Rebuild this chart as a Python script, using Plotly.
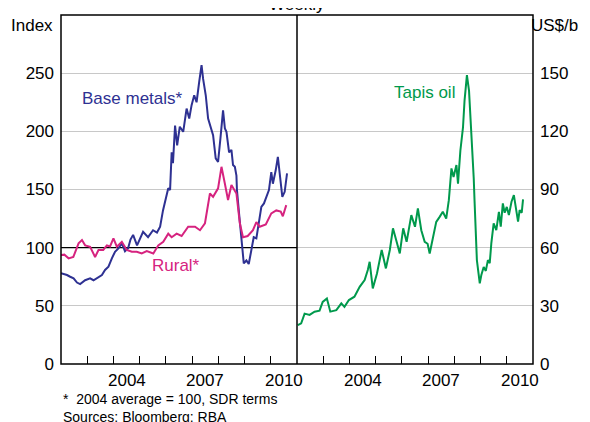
import plotly.graph_objects as go
from plotly.subplots import make_subplots

# ---- Data (decimal years) ----
base_years = [2002.00, 2002.23, 2002.35, 2002.48, 2002.61, 2002.73, 2002.92, 2003.11, 2003.24, 2003.43,
              2003.56, 2003.68, 2003.81, 2003.94, 2004.06, 2004.19, 2004.32, 2004.44, 2004.56, 2004.65,
              2004.75, 2004.90, 2005.13, 2005.32, 2005.51, 2005.66, 2005.78, 2005.89, 2005.97, 2006.09,
              2006.16, 2006.22, 2006.27, 2006.35, 2006.43, 2006.53, 2006.66, 2006.79, 2006.89, 2006.98,
              2007.08, 2007.17, 2007.27, 2007.36, 2007.42, 2007.52, 2007.61, 2007.70, 2007.80, 2007.90,
              2007.99, 2008.08, 2008.18, 2008.25, 2008.31, 2008.41, 2008.50, 2008.56, 2008.63, 2008.69,
              2008.71, 2008.79, 2008.88, 2008.97, 2009.07, 2009.16, 2009.26, 2009.35, 2009.45, 2009.55,
              2009.64, 2009.74, 2009.83, 2009.93, 2010.02, 2010.08, 2010.19, 2010.27, 2010.34, 2010.44,
              2010.53, 2010.62]
base_metals = [78, 76.5, 75, 73.6, 70, 68.7, 72, 73.6, 72, 75,
               76.5, 80.8, 83.6, 90.8, 96.5, 99.4, 103.7, 97, 99.6, 107,
               111, 102, 113.7, 109, 115, 113, 118, 132, 139, 151,
               149.5, 182, 172.7, 205, 188, 204, 199.6, 219.6, 211, 222.5,
               231, 225, 242.5, 257, 245, 231, 211, 205, 196.7, 176.7,
               173.8, 194, 218, 202.5, 199.6, 182, 184, 171, 169.5, 162,
               149.5, 129.5, 106.5, 86.5, 89, 86, 98, 109, 108, 121,
               135, 138, 143.7, 149.5, 165, 155, 166.7, 178, 163.8, 143.7,
               148, 163.8]

rural_years = [2002.00, 2002.13, 2002.29, 2002.47, 2002.67, 2002.80, 2002.92, 2003.11, 2003.30, 2003.43,
               2003.61, 2003.75, 2003.87, 2004.00, 2004.13, 2004.32, 2004.51, 2004.70, 2004.89, 2005.08,
               2005.27, 2005.52, 2005.71, 2005.90, 2006.09, 2006.22, 2006.41, 2006.60, 2006.85, 2007.11,
               2007.30, 2007.49, 2007.68, 2007.80, 2007.99, 2008.12, 2008.25, 2008.37, 2008.50, 2008.69,
               2008.82, 2008.94, 2009.12, 2009.32, 2009.45, 2009.58, 2009.81, 2010.02, 2010.21, 2010.38,
               2010.46, 2010.59]
rural = [93.6, 94, 90.8, 92, 103.7, 106.5, 102, 100.8, 92, 98,
         98, 102, 101, 108, 100.8, 105, 98, 96.5, 96.5, 95,
         97, 95, 102, 105, 112, 109, 112, 110, 118, 118,
         115, 121, 146.6, 143.7, 151, 169.5, 155, 141, 153.8, 146.6,
         121, 109, 110, 115, 122, 118, 120, 129.5, 132, 131,
         127, 136.6]

oil_years = [2002.03, 2002.16, 2002.29, 2002.48, 2002.67, 2002.86, 2002.98, 2003.14, 2003.27, 2003.50,
             2003.69, 2003.81, 2003.98, 2004.19, 2004.39, 2004.58, 2004.70, 2004.77, 2004.89, 2005.05,
             2005.23, 2005.39, 2005.54, 2005.66, 2005.80, 2005.92, 2006.05, 2006.18, 2006.36, 2006.50,
             2006.61, 2006.74, 2006.87, 2006.98, 2007.06, 2007.18, 2007.31, 2007.44, 2007.56, 2007.69,
             2007.79, 2007.89, 2007.97, 2008.08, 2008.14, 2008.23, 2008.33, 2008.39, 2008.48, 2008.56,
             2008.65, 2008.71, 2008.74, 2008.77, 2008.86, 2008.97, 2009.03, 2009.12, 2009.20, 2009.28,
             2009.35, 2009.41, 2009.50, 2009.60, 2009.70, 2009.77, 2009.85, 2009.92, 2010.00, 2010.08,
             2010.18, 2010.27, 2010.34, 2010.43, 2010.49, 2010.57, 2010.62]
tapis_oil = [20.1, 21, 26, 25.3, 27, 27.5, 32, 33.8, 27, 27.8,
             31.3, 29.5, 33, 34.7, 39.8, 43.3, 48.5, 52.7, 39, 46.7,
             58.8, 49.3, 58.8, 70, 63, 57, 70, 63, 76.8, 70.8,
             80.3, 69, 63, 62, 57, 65.6, 73.3, 75.9, 78.5, 75,
             84.5, 100.9, 96.5, 102.6, 93, 110, 122, 136, 149, 141,
             120.6, 103, 95.7, 84.5, 53.6, 41.6, 45.9, 50, 48, 53.6,
             52, 62.2, 72.5, 69, 78.5, 70.8, 82.8, 78, 81, 76.8,
             83.7, 87.1, 80.3, 73.4, 79.4, 78, 84.9]

left_ticks = [0, 50, 100, 150, 200, 250]
right_ticks = [0, 30, 60, 90, 120, 150]
year_ticks = [2003, 2004, 2005, 2006, 2007, 2008, 2009, 2010]
year_label_pos = [2004.5, 2007.5, 2010.5]
year_labels = ["2004", "2007", "2010"]

FONT = "Liberation Sans, Arial, sans-serif"
BLUE = "#2E3192"
MAGENTA = "#D6237F"
GREEN = "#00994C"
GRID = "#C8C8C8"

fig = make_subplots(rows=1, cols=2, horizontal_spacing=0)

fig.add_trace(go.Scatter(x=base_years, y=base_metals, mode="lines",
                         line=dict(color=BLUE, width=2)), row=1, col=1)
fig.add_trace(go.Scatter(x=rural_years, y=rural, mode="lines",
                         line=dict(color=MAGENTA, width=2)), row=1, col=1)
fig.add_trace(go.Scatter(x=oil_years, y=tapis_oil, mode="lines",
                         line=dict(color=GREEN, width=2)), row=1, col=2)

# year-boundary tick marks (labels are centred between them, added below)
fig.update_xaxes(range=[2002, 2011], tickmode="array", tickvals=year_ticks,
                 ticktext=[""] * len(year_ticks), ticks="inside", ticklen=8,
                 tickcolor="black", tickwidth=1,
                 showgrid=False, showline=False, zeroline=False, automargin=False)

fig.update_yaxes(row=1, col=1, range=[0, 300], tickvals=left_ticks, ticks="",
                 showgrid=True, gridcolor=GRID, gridwidth=1, zeroline=False,
                 showline=False, automargin=False,
                 ticklabelstandoff=6, tickfont=dict(family=FONT, size=17, color="black"))
fig.update_yaxes(row=1, col=2, range=[0, 180], tickvals=right_ticks, ticks="",
                 side="right", showgrid=True, gridcolor=GRID, gridwidth=1, zeroline=False,
                 showline=False, automargin=False,
                 ticklabelstandoff=6, tickfont=dict(family=FONT, size=17, color="black"))

# reference line at 100 on the left panel
fig.add_shape(type="line", xref="x", yref="y", x0=2002, x1=2011, y0=100, y1=100,
              line=dict(color="black", width=1.2), layer="between")
# panel frame and divider
fig.add_shape(type="rect", xref="paper", yref="paper", x0=0, x1=1, y0=0, y1=1,
              line=dict(color="black", width=1.5), layer="above")
fig.add_shape(type="line", xref="paper", yref="paper", x0=0.5, x1=0.5, y0=0, y1=1,
              line=dict(color="black", width=1.5), layer="above")

ann = [
    dict(text="Index", x=-0.0614, y=1.0, xref="paper", yref="paper", xanchor="center",
         yanchor="middle", yshift=-10, showarrow=False, font=dict(family=FONT, size=17, color="black")),
    dict(text="US$/b", x=1.0, y=1.0, xref="paper", yref="paper", xanchor="right",
         yanchor="middle", xshift=47, yshift=-10, showarrow=False,
         font=dict(family=FONT, size=17, color="black")),
    dict(text="Weekly", x=0.5, y=1.0, xref="paper", yref="paper", xanchor="center",
         yanchor="bottom", yshift=-1, showarrow=False, font=dict(family=FONT, size=17, color="black")),
    dict(text="Base metals*", x=2004.71, y=228.5, xref="x", yref="y", showarrow=False,
         font=dict(family=FONT, size=17, color=BLUE)),
    dict(text="Rural*", x=2006.39, y=85, xref="x", yref="y", showarrow=False,
         font=dict(family=FONT, size=17, color=MAGENTA)),
    dict(text="Tapis oil", x=2006.87, y=140.2, xref="x2", yref="y2", showarrow=False,
         font=dict(family=FONT, size=17, color=GREEN)),
    dict(text="*&nbsp;&nbsp;2004 average = 100, SDR terms", x=0, y=-0.1003, xref="paper", yref="paper",
         xanchor="left", yanchor="middle", showarrow=False, font=dict(family=FONT, size=14, color="black")),
    dict(text="Sources: Bloomberg; RBA", x=0, y=-0.151, xref="paper", yref="paper",
         xanchor="left", yanchor="middle", showarrow=False, font=dict(family=FONT, size=14, color="black")),
]
for xr in ("x", "x2"):
    for pos, lab in zip(year_label_pos, year_labels):
        ann.append(dict(text=lab, x=pos, y=0, xref=xr, yref="paper", xanchor="center",
                        yanchor="middle", yshift=-16, showarrow=False,
                        font=dict(family=FONT, size=17, color="black")))

# page body adds an 8 px offset, so the figure is 8 px smaller and margins shifted
fig.update_layout(width=582, height=414, margin=dict(l=53, r=57, t=7, b=58),
                  plot_bgcolor="white", paper_bgcolor="white", showlegend=False,
                  annotations=ann)

fig.write_html("out.html")
